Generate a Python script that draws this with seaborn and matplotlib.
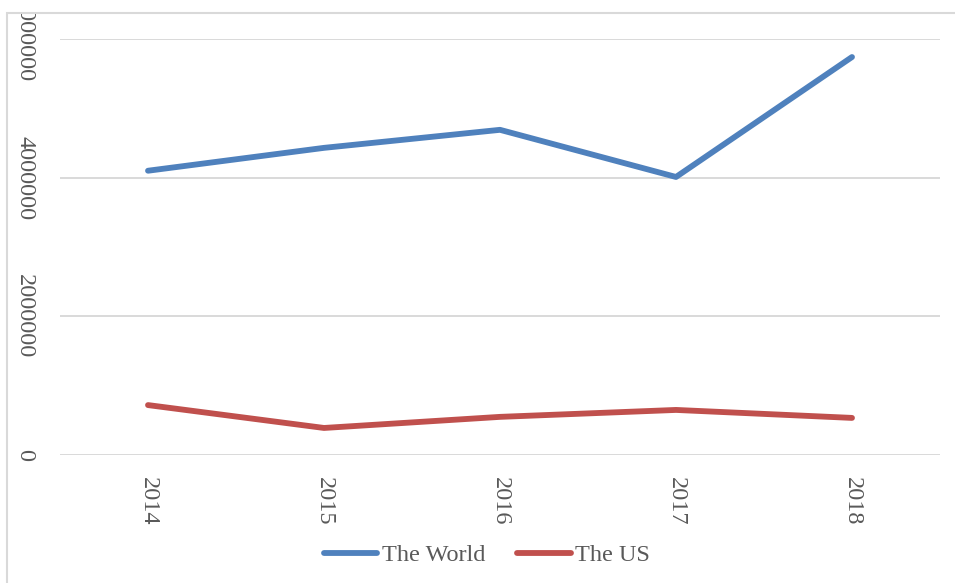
import pandas as pd
import seaborn as sns
import matplotlib.pyplot as plt
from matplotlib.patches import Rectangle

years = ["2014", "2015", "2016", "2017", "2018"]
world = [4100000, 4430000, 4690000, 4010000, 5740000]
us = [720000, 390000, 550000, 650000, 535000]

df = pd.DataFrame({
    "year": years * 2,
    "value": world + us,
    "series": ["The World"] * len(years) + ["The US"] * len(years),
})

sns.set_style("white")
plt.rcParams["font.family"] = ["Liberation Serif", "DejaVu Serif"]
grey = "#595959"

fig = plt.figure(figsize=(9.55, 5.83), dpi=100)
ax = fig.add_axes([60 / 955, 1 - 455 / 583, 880 / 955, 416 / 583])

sns.lineplot(data=df, x="year", y="value", hue="series",
             palette={"The World": "#4F81BD", "The US": "#C0504D"},
             linewidth=4.2, solid_capstyle="round", ax=ax, legend=False)

ax.set_xlim(-0.5, 4.5)
ax.set_ylim(0, 6000000)
ax.set_yticks([0, 2000000, 4000000, 6000000])
ax.set_yticklabels(["0", "2000000", "4000000", "6000000"])
ax.grid(axis="y", color="#D9D9D9", linewidth=1.4)
ax.set_axisbelow(True)
for s in ax.spines.values():
    s.set_visible(False)
ax.set_xlabel("")
ax.set_ylabel("")
ax.tick_params(axis="both", length=0, labelsize=17.5, labelcolor=grey)
ax.tick_params(axis="y", pad=18)
ax.tick_params(axis="x", pad=16)
for t in ax.get_yticklabels():
    t.set_rotation(-90)
    t.set_va("center")
for t in ax.get_xticklabels():
    t.set_rotation(-90)
    t.set_va("top")

handles = [plt.Line2D([], [], color="#4F81BD", linewidth=4.2, solid_capstyle="round"),
           plt.Line2D([], [], color="#C0504D", linewidth=4.2, solid_capstyle="round")]
fig.legend(handles, ["The World", "The US"], loc="center",
           bbox_to_anchor=(487 / 955, 1 - 555 / 583), ncol=2, frameon=False,
           fontsize=17.5, labelcolor=grey, handlelength=2.2, handletextpad=0.2,
           columnspacing=1.3)

# white strip above the chart frame hides the clipped top label
fig.patches.append(Rectangle((0, 1 - 12 / 583), 1, 1, transform=fig.transFigure,
                             facecolor="white", edgecolor="none", zorder=10))
fig.patches.append(Rectangle((7 / 955, -0.1), 1.1, 1.1 - 13 / 583,
                             transform=fig.transFigure, facecolor="none",
                             edgecolor="#D9D9D9", linewidth=1.5, zorder=11))

fig.savefig("out.png", dpi=100)
